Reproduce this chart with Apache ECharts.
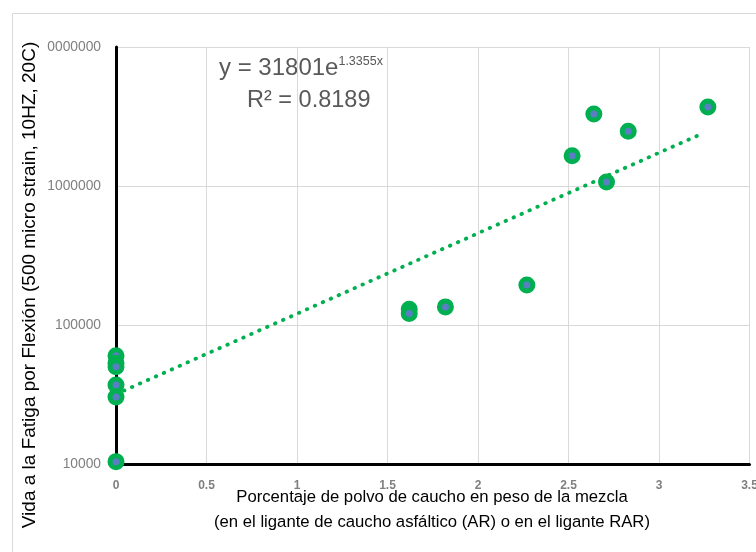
<!DOCTYPE html>
<html><head><meta charset="utf-8">
<script src="https://cdn.jsdelivr.net/npm/echarts@6/dist/echarts.min.js"></script>
<style>html,body{margin:0;padding:0;background:#fff}#c{width:756px;height:552px}</style>
</head><body><div id="c"></div>
<script>
// Data
const rubberPct = [0, 0, 0, 0, 0, 0, 1.62, 1.62, 1.82, 2.27, 2.52, 2.64, 2.71, 2.83, 3.27];
const fatigueLife = [60000, 53000, 50000, 37000, 30300, 10400, 130000, 121000, 135000, 194000, 1650000, 3300000, 1070000, 2480000, 3700000];
const trendX = [0, 3.25];
const trendY = [31801, 2420000];
const xTicks = [0, 0.5, 1, 1.5, 2, 2.5, 3, 3.5];
const yTickValues = [10000, 100000, 1000000, 10000000];
const yTickLabels = ['10000', '100000', '1000000', '0000000'];

const pts = rubberPct.map((x, i) => [x, fatigueLife[i]]);
const trend = trendX.map((x, i) => [x, trendY[i]]);

const chart = echarts.init(document.getElementById('c'), null, {renderer: 'canvas'});
const font = 'Liberation Sans';
chart.setOption({
  animation: false,
  textStyle: {fontFamily: font},
  grid: {left: 116, right: 6.5, top: 47, bottom: 88, containLabel: false, outerBoundsMode: 'none'},
  xAxis: {
    type: 'value', min: 0, max: 3.5, interval: 0.5,
    axisLine: {onZero: false, lineStyle: {color: '#000', width: 3}},
    axisTick: {show: false},
    axisLabel: {color: '#7f7f7f', fontSize: 12, fontWeight: 'bold', margin: 16,
      formatter: v => String(xTicks.find(t => Math.abs(t - v) < 1e-9) ?? v)},
    splitLine: {show: true, lineStyle: {color: '#d9d9d9', width: 1}}
  },
  yAxis: {
    type: 'log', logBase: 10, min: 10000, max: 10000000,
    axisLine: {onZero: false, lineStyle: {color: '#000', width: 3}},
    axisTick: {show: false},
    axisLabel: {color: '#7f7f7f', fontSize: 13.8, margin: 15,
      formatter: v => {
        const i = yTickValues.findIndex(t => Math.abs(Math.log10(t) - Math.log10(v)) < 1e-6);
        return i >= 0 ? yTickLabels[i] : '';
      }},
    splitLine: {show: true, lineStyle: {color: '#d9d9d9', width: 1}}
  },
  graphic: [
    {type: 'rect', left: 10, top: 11, shape: {width: 800, height: 600}, style: {fill: 'none', stroke: '#d9d9d9', lineWidth: 1}, z: -10, silent: true},
    {type: 'text', left: 219, top: 55, style: {
      text: '{a|y = 31801e}{s|1.3355x}', rich: {
        a: {fontSize: 24, fill: '#595959', fontFamily: font},
        s: {fontSize: 12.5, fill: '#595959', fontFamily: font, verticalAlign: 'top', padding: [0, 0, 13, 0]}
      }}},
    {type: 'text', left: 247, top: 89, style: {text: 'R² = 0.8189', fontSize: 23.5, fill: '#595959', fontFamily: font}},
    {type: 'text', x: 30, y: 285, rotation: Math.PI / 2, style: {
      text: 'Vida a la Fatiga por Flexión (500 micro strain, 10HZ, 20C)', fontSize: 19, fill: '#000', fontFamily: font,
      align: 'center', verticalAlign: 'middle'}},
    {type: 'text', x: 432, y: 497, style: {text: 'Porcentaje de polvo de caucho en peso de la mezcla', fontSize: 16.7, fill: '#000', fontFamily: font, align: 'center', verticalAlign: 'middle'}},
    {type: 'text', x: 432, y: 522, style: {text: '(en el ligante de caucho asfáltico (AR) o en el ligante RAR)', fontSize: 16.7, fill: '#000', fontFamily: font, align: 'center', verticalAlign: 'middle'}}
  ],
  series: [
    {type: 'line', data: trend, showSymbol: false, symbol: 'none', z: 2,
      lineStyle: {color: '#00b050', width: 3.8, type: [0.5, 8.2], cap: 'round'}},
    {type: 'scatter', data: pts, symbol: 'circle', symbolSize: 12, z: 3,
      itemStyle: {color: '#5a7ec4', borderColor: '#00b050', borderWidth: 5, opacity: 1}}
  ]
});
</script></body></html>
